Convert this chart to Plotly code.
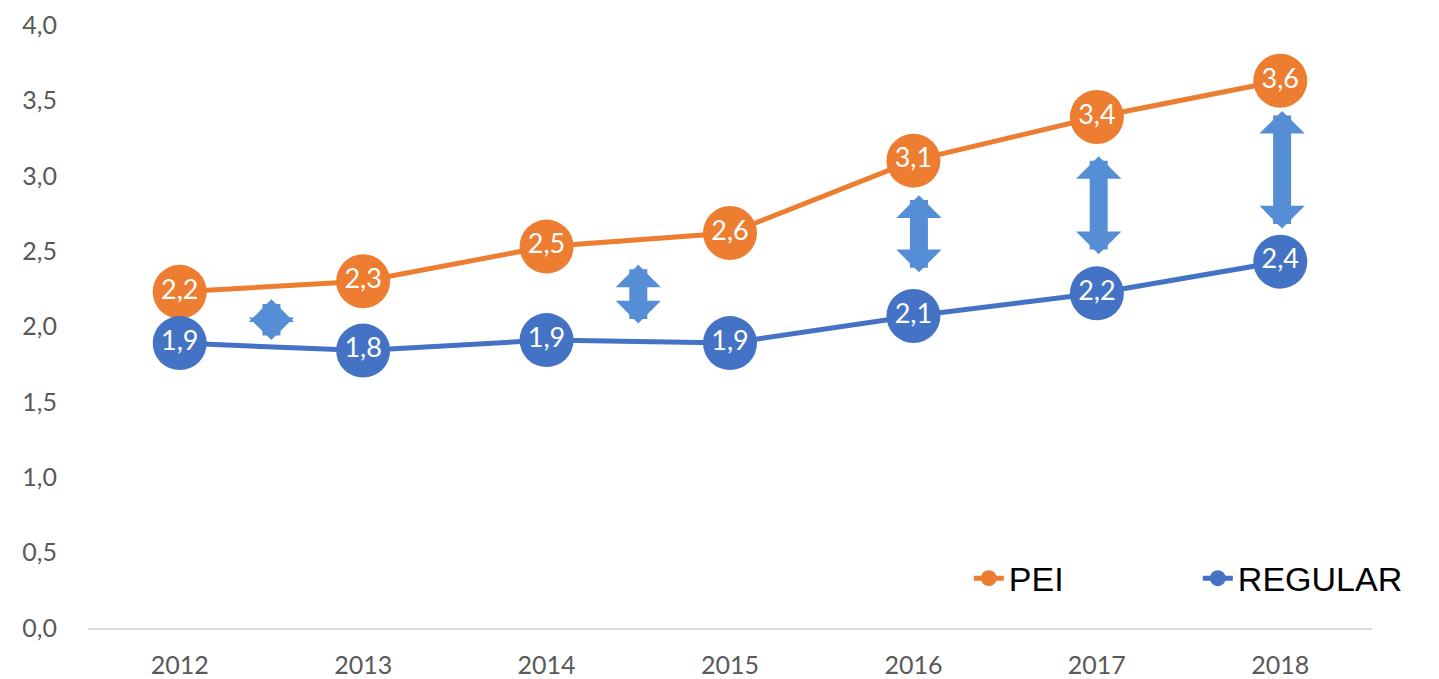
import plotly.graph_objects as go

years = ["2012", "2013", "2014", "2015", "2016", "2017", "2018"]
pei = [2.23, 2.30, 2.53, 2.62, 3.10, 3.39, 3.63]
regular = [1.89, 1.84, 1.91, 1.89, 2.07, 2.22, 2.43]
pei_labels = ["2,2", "2,3", "2,5", "2,6", "3,1", "3,4", "3,6"]
regular_labels = ["1,9", "1,8", "1,9", "1,9", "2,1", "2,2", "2,4"]

# gap arrows: x position (category index), top value, bottom value
arrow_x = [0.5, 2.5, 4.03, 5.01, 6.01]
arrow_top = [2.18, 2.41, 2.87, 3.13, 3.43]
arrow_bottom = [1.90, 2.01, 2.35, 2.47, 2.64]

ORANGE = "#ED7D31"
BLUE = "#4472C4"
ARROW = "#558ED5"
xs = list(range(len(years)))

fig = go.Figure()
fig.add_trace(go.Scatter(
    x=xs, y=pei, name="PEI", mode="lines+markers+text",
    line=dict(color=ORANGE, width=5),
    marker=dict(color=ORANGE, size=54),
    text=pei_labels, textposition="middle center",
    textfont=dict(color="white", size=27, family="Lato"),
))
fig.add_trace(go.Scatter(
    x=xs, y=regular, name="REGULAR", mode="lines+markers+text",
    line=dict(color=BLUE, width=5),
    marker=dict(color=BLUE, size=54),
    text=regular_labels, textposition="middle center",
    textfont=dict(color="white", size=27, family="Lato"),
))

for x, t, b in zip(arrow_x, arrow_top, arrow_bottom):
    fig.add_annotation(
        x=x, y=t, ax=x, ay=b, xref="x", yref="y", axref="x", ayref="y",
        text="", showarrow=True, arrowside="end+start",
        arrowhead=1, startarrowhead=1, arrowsize=0.42, startarrowsize=0.42,
        arrowwidth=18, arrowcolor=ARROW, standoff=0, startstandoff=0,
    )

fig.update_layout(
    width=1431, height=671,
    margin=dict(l=80, r=64, t=17, b=51),
    paper_bgcolor="white", plot_bgcolor="white",
    separators=",.",
    showlegend=True,
    legend=dict(
        orientation="h", x=0.686, y=0.082, xanchor="left", yanchor="middle",
        font=dict(family="Liberation Sans, Arial", size=34, color="black"),
        entrywidth=184, entrywidthmode="pixels",
        bgcolor="rgba(0,0,0,0)",
    ),
    xaxis=dict(
        range=[-0.5, 6.5], tickvals=xs, ticktext=years, automargin=False,
        showgrid=False, zeroline=False, showline=True,
        linecolor="#D9D9D9", linewidth=2, ticks="",
        tickfont=dict(family="Lato", size=25, color="#595959"),
        ticklabelstandoff=14, ticklabeloverflow="allow",
    ),
    yaxis=dict(
        range=[0, 4], tickvals=[0, 0.5, 1, 1.5, 2, 2.5, 3, 3.5, 4], automargin=False,
        tickformat=".1f", showgrid=False, zeroline=False, showline=False,
        ticks="", tickfont=dict(family="Lato", size=25, color="#595959"),
        ticklabelstandoff=30, ticklabeloverflow="allow",
    ),
)

fig.write_html("out.html")
